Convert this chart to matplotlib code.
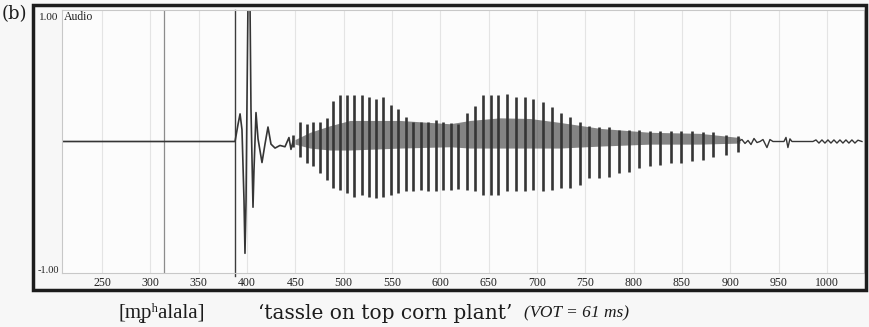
import matplotlib
matplotlib.use("Agg")
import matplotlib.pyplot as plt
from matplotlib.patches import Rectangle

# time in ms, amplitude normalised to +-1
tick_ms = list(range(250, 1001, 50))
cursor_ms = [314.0, 387.6]

# silence + release burst
burst_t = [210.0, 387.6, 390.7, 392.8, 394.8, 396.9, 397.9, 399.0, 400.0, 401.0, 403.1,
           404.1, 406.2, 407.2, 409.3, 411.4, 415.5, 418.6, 421.7, 424.8, 429.0, 434.1,
           439.3, 443.4, 445.5, 447.6]
burst_a = [0.0, 0.0, 0.13, 0.21, 0.09, -0.45, -0.85, -0.45, 0.32, 1.05, 1.05,
           0.25, -0.50, -0.22, 0.22, 0.02, -0.16, -0.02, 0.11, -0.02, -0.05, -0.03,
           -0.04, 0.03, -0.06, 0.0]

# glottal pulses: time, positive peak, negative peak
pulse_t = [447.6, 454.8, 462.1, 468.3, 475.5, 482.8, 489.0, 496.2, 503.4, 510.7,
           519.0, 526.2, 533.4, 540.7, 549.0, 556.2, 564.5, 571.7, 580.0, 587.2,
           595.5, 602.8, 611.0, 618.3, 627.6, 635.8, 644.1, 652.4, 659.6, 668.9,
           678.2, 687.5, 695.8, 706.2, 715.5, 724.8, 734.1, 744.5, 753.8, 764.1,
           774.5, 784.8, 795.2, 805.5, 816.9, 827.2, 838.6, 848.9, 860.3, 871.7,
           882.0, 895.5, 907.9]
pulse_hi = [0.05, 0.15, 0.13, 0.15, 0.15, 0.18, 0.31, 0.35, 0.35, 0.35,
            0.35, 0.34, 0.32, 0.34, 0.28, 0.25, 0.19, 0.15, 0.15, 0.15,
            0.16, 0.15, 0.14, 0.13, 0.22, 0.27, 0.35, 0.35, 0.35, 0.36,
            0.34, 0.34, 0.32, 0.30, 0.26, 0.22, 0.19, 0.15, 0.12, 0.11,
            0.11, 0.09, 0.09, 0.09, 0.08, 0.08, 0.08, 0.08, 0.08, 0.07,
            0.07, 0.05, 0.04]
pulse_lo = [-0.04, -0.12, -0.16, -0.19, -0.24, -0.29, -0.35, -0.37, -0.39, -0.42,
            -0.41, -0.42, -0.43, -0.42, -0.41, -0.39, -0.38, -0.38, -0.37, -0.38,
            -0.38, -0.37, -0.37, -0.36, -0.37, -0.38, -0.41, -0.41, -0.41, -0.38,
            -0.38, -0.38, -0.37, -0.38, -0.37, -0.35, -0.35, -0.33, -0.28, -0.28,
            -0.27, -0.24, -0.23, -0.20, -0.19, -0.18, -0.16, -0.16, -0.15, -0.14,
            -0.12, -0.10, -0.08]

# dense ringing between the pulses
body_t = [449.7, 465.2, 485.9, 506.5, 558.3, 610.0, 630.7, 661.7, 692.7, 723.8,
          765.1, 816.9, 868.6, 910.0]
body_hi = [0.015, 0.07, 0.12, 0.16, 0.16, 0.135, 0.16, 0.18, 0.175, 0.145,
           0.10, 0.07, 0.062, 0.03]
body_lo = [-0.02, -0.05, -0.065, -0.065, -0.05, -0.04, -0.05, -0.05, -0.05, -0.05,
           -0.035, -0.02, -0.02, -0.012]

# decay at the end
tail_t = [907.9, 912.0, 915.2, 918.3, 921.4, 924.5, 927.6, 930.7, 933.8, 937.9,
          941.0, 944.1, 955.5, 957.6, 959.6, 961.7, 963.8, 985.5, 988.6, 991.7,
          994.8, 997.9, 1001.0, 1004.1, 1007.2, 1010.3, 1013.4, 1016.5, 1019.6,
          1022.7, 1025.8, 1028.9, 1032.0, 1036.2]
tail_a = [0.0, 0.015, -0.015, 0.008, -0.023, 0.023, -0.008, 0.0, 0.015, -0.046,
          0.015, 0.0, 0.0, 0.031, -0.046, 0.02, 0.0, 0.0, 0.012, -0.012,
          0.012, -0.012, 0.012, -0.012, 0.012, -0.012, 0.012, -0.012, 0.012,
          -0.012, 0.012, -0.012, 0.01, 0.0]

serif = ["Liberation Serif", "DejaVu Serif"]
wave = "#353535"

fig = plt.figure(figsize=(8.7, 3.27), dpi=100, facecolor="#f7f7f7")
ax = fig.add_axes([62 / 870, 1 - 273 / 327, 802 / 870, 263 / 327])
ax.set_facecolor("#fcfcfc")
ax.set_xlim(208.6, 1038.3)
ax.set_ylim(-1, 1)

ax.set_xticks(tick_ms)
ax.set_xticklabels([str(t) for t in tick_ms], family=serif, fontsize=8.5, color="#222")
ax.set_yticks([])
ax.tick_params(axis="x", length=0, pad=3)
ax.grid(axis="x", color="#e4e4e4", lw=0.8)
ax.set_axisbelow(True)
for s in ax.spines.values():
    s.set_color("#c8c8c8")
    s.set_linewidth(0.8)

ax.axvline(cursor_ms[0], color="#8c8c8c", lw=0.9)
ax.axvline(cursor_ms[1], ymin=-0.01, color="#3c3c3c", lw=1.0, clip_on=False)

ax.fill_between(body_t, body_lo, body_hi, color=wave, lw=0, alpha=0.6)
ax.vlines(pulse_t, pulse_lo, pulse_hi, color=wave, lw=1.9)
ax.plot(burst_t, burst_a, color=wave, lw=1.2)
ax.plot(tail_t, tail_a, color=wave, lw=1.0)

ax.text(-0.004, 0.972, "1.00", transform=ax.transAxes, ha="right", va="center",
        family=serif, fontsize=8, color="#222")
ax.text(0.002, 0.972, "Audio", transform=ax.transAxes, ha="left", va="center",
        family=serif, fontsize=8.5, color="#222")
ax.text(-0.004, 0.01, "-1.00", transform=ax.transAxes, ha="right", va="center",
        family=serif, fontsize=7.5, color="#222")

# outer frame of the panel
fig.add_artist(Rectangle((33 / 870, 1 - 290 / 327), 833 / 870, 285 / 327,
                         transform=fig.transFigure, fill=False, lw=2.5, ec="#1c1c1c"))

fig.text(2 / 870, 1 - 14 / 327, "(b)", family=["DejaVu Serif"], fontsize=13,
         ha="left", va="center", color="#1c1c1c")
fig.text(162 / 870, 1 - 313 / 327, "[m\u0325p\u02b0alala]", family=serif,
         fontsize=15, ha="center", va="center", color="#1c1c1c")
fig.text(258 / 870, 1 - 313 / 327, "\u2018tassle on top corn plant\u2019",
         family=["DejaVu Serif"], fontsize=14.5, ha="left", va="center", color="#1c1c1c")
fig.text(524 / 870, 1 - 313 / 327, "(VOT = 61 ms)", family=serif,
         style="italic", fontsize=12.5, ha="left", va="center", color="#1c1c1c")

fig.savefig("out.png", dpi=100, facecolor=fig.get_facecolor())
